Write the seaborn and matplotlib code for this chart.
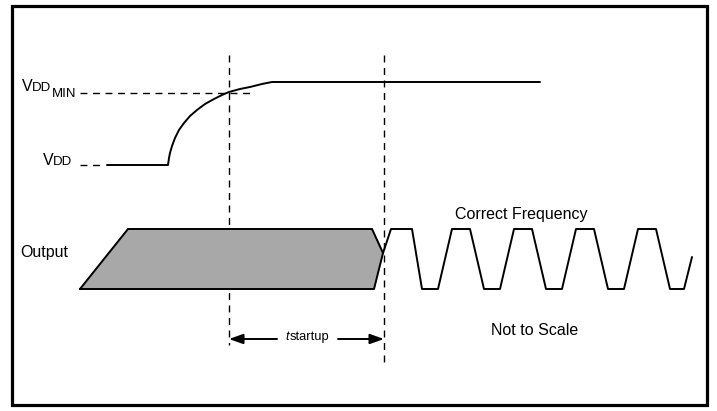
import matplotlib
matplotlib.use("Agg")
import matplotlib.pyplot as plt
import seaborn as sns
import pandas as pd

sns.set_theme(style="white")
plt.rcParams['font.family'] = ['Liberation Sans', 'DejaVu Sans']
plt.rcParams['text.color'] = 'black'
plt.rcParams['lines.scale_dashes'] = False

# Supply voltage ramp (x, y in picture units)
vdd_x = [107, 168, 169, 170, 172, 175, 179, 184, 190, 197, 205, 214, 222, 229, 240, 250, 262, 272, 540]
vdd_y = [165, 165, 158, 153, 146, 138, 130, 123, 116, 110, 104, 99, 95, 92, 89, 87, 84, 82, 82]

# Undefined output region (grey parallelogram)
blob_x = [80, 128, 372, 383, 374, 80]
blob_y = [289, 229, 229, 253, 289, 289]

# Clock output after start-up
clk_x = [383, 391, 412, 422, 438, 452, 470, 484, 500, 514, 532, 546, 562, 576, 594, 608, 624, 638, 656, 670, 684, 692]
clk_y = [253, 229, 229, 289, 289, 229, 229, 289, 289, 229, 229, 289, 289, 229, 229, 289, 289, 229, 229, 289, 289, 257]

# Reference levels and markers
vddmin_level = 93
vdd_level = 165
t_start = 229
t_end = 384

fig = plt.figure(figsize=(7.17, 4.11), dpi=100)
ax = fig.add_axes([0, 0, 1, 1])

# border
ax.add_patch(plt.Rectangle((12, 6), 695, 399, fill=False, lw=2.3, ec="black", zorder=5))

# dashed guides
dash = (0, (5, 4))
ax.plot([80, 250], [vddmin_level, vddmin_level], color="black", lw=1.0, ls=dash)
ax.plot([80, 105], [vdd_level, vdd_level], color="black", lw=1.0, ls=dash)
ax.plot([t_start, t_start], [55, 345], color="black", lw=1.0, ls=dash)
ax.plot([t_end, t_end], [55, 362], color="black", lw=1.0, ls=dash)

# grey blob
ax.fill(blob_x, blob_y, color="#a8a8a8", zorder=2)

sns.lineplot(data=pd.DataFrame({"x": vdd_x, "y": vdd_y}), x="x", y="y", sort=False,
             estimator=None, color="black", lw=1.4, ax=ax, zorder=3)
sns.lineplot(data=pd.DataFrame({"x": blob_x, "y": blob_y}), x="x", y="y", sort=False,
             estimator=None, color="black", lw=1.4, ax=ax, zorder=3)
sns.lineplot(data=pd.DataFrame({"x": clk_x, "y": clk_y}), x="x", y="y", sort=False,
             estimator=None, color="black", lw=1.4, ax=ax, zorder=3)
ax.set_xlim(0, 717)
ax.set_ylim(411, 0)
ax.axis("off")

# t startup arrows
ay = 339
ax.annotate("", xy=(t_start, ay), xytext=(277, ay),
            arrowprops=dict(arrowstyle="-|>,head_length=0.7,head_width=0.25", color="black",
                            lw=1.4, mutation_scale=12, shrinkA=0, shrinkB=0))
ax.annotate("", xy=(t_end, ay), xytext=(338, ay),
            arrowprops=dict(arrowstyle="-|>,head_length=0.7,head_width=0.25", color="black",
                            lw=1.4, mutation_scale=12, shrinkA=0, shrinkB=0))
ax.text(285, 337, "t", fontsize=9.3, style="italic", ha="left", va="center")
ax.text(290, 337, "startup", fontsize=9.3, ha="left", va="center")

# labels
ax.text(22, 91, "V", fontsize=11.5, ha="left", va="baseline")
ax.text(32, 91, "DD", fontsize=9.5, ha="left", va="baseline")
ax.text(52, 97, "MIN", fontsize=9.5, ha="left", va="baseline")
ax.text(43, 165, "V", fontsize=11.5, ha="left", va="baseline")
ax.text(53, 165, "DD", fontsize=9.5, ha="left", va="baseline")
ax.text(20, 252.5, "Output", fontsize=11.5, ha="left", va="center")
ax.text(521, 214, "Correct Frequency", fontsize=11.5, ha="center", va="center")
ax.text(535, 330, "Not to Scale", fontsize=11.5, ha="center", va="center")

fig.savefig("out.png", dpi=100)
